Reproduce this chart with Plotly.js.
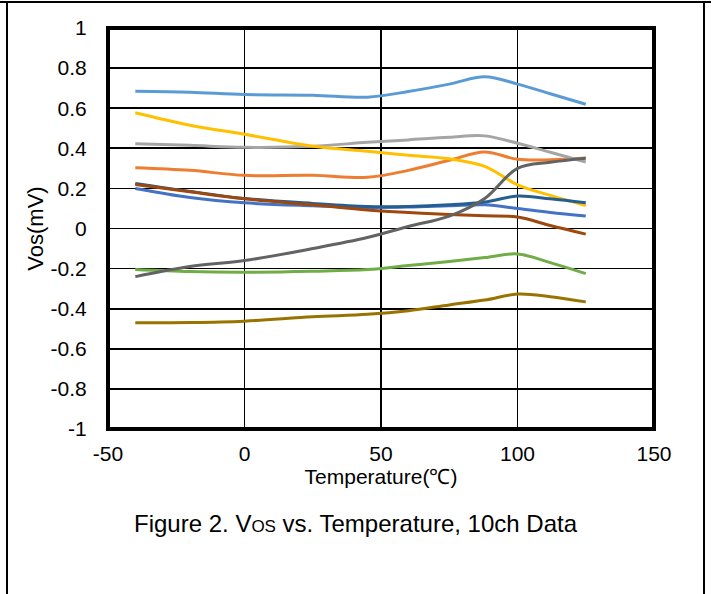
<!DOCTYPE html>
<html>
<head>
<meta charset="utf-8">
<script src="https://cdn.plot.ly/plotly-3.0.1.min.js"></script>
<style>
  html, body { margin: 0; padding: 0; background: #fff; }
  #wrap { position: relative; width: 711px; height: 594px; overflow: hidden; }
  #chart { width: 711px; height: 594px; }
  .frame { position: absolute; background: #000; pointer-events: none; }
</style>
</head>
<body>
<div id="wrap">
  <div id="chart"></div>
  <div class="frame" style="left:0;top:1px;width:711px;height:2px;"></div>
  <div class="frame" style="left:6px;top:1px;width:2px;height:593px;"></div>
  <div class="frame" style="left:703px;top:1px;width:2px;height:593px;"></div>
</div>
<script>
// Temperature points (°C)
const temps = [-40, -20, 0, 25, 45, 60, 75, 88, 100, 112, 125];

// Vos (mV) for each of the 10 channels
const ch1  = [0.685, 0.680, 0.668, 0.665, 0.655, 0.683, 0.720, 0.757, 0.720, 0.672, 0.620];
const ch2  = [0.303, 0.290, 0.265, 0.265, 0.255, 0.290, 0.340, 0.382, 0.345, 0.343, 0.352];
const ch3  = [0.423, 0.415, 0.405, 0.410, 0.430, 0.442, 0.455, 0.462, 0.425, 0.380, 0.332];
const ch4  = [0.577, 0.515, 0.470, 0.410, 0.385, 0.365, 0.348, 0.310, 0.218, 0.165, 0.115];
const ch5  = [0.200, 0.155, 0.128, 0.113, 0.105, 0.107, 0.113, 0.118, 0.100, 0.080, 0.062];
const ch6  = [-0.205, -0.215, -0.218, -0.213, -0.205, -0.185, -0.165, -0.145, -0.127, -0.170, -0.225];
const ch7  = [0.225, 0.185, 0.150, 0.125, 0.110, 0.110, 0.118, 0.132, 0.162, 0.148, 0.128];
const ch8  = [0.220, 0.183, 0.148, 0.118, 0.092, 0.080, 0.070, 0.063, 0.057, 0.015, -0.028];
const ch9  = [-0.240, -0.190, -0.160, -0.100, -0.045, 0.010, 0.062, 0.150, 0.300, 0.330, 0.350];
const ch10 = [-0.470, -0.469, -0.462, -0.440, -0.428, -0.410, -0.381, -0.357, -0.327, -0.340, -0.366];

const channels = [ch1, ch2, ch3, ch4, ch5, ch6, ch7, ch8, ch9, ch10];
const channelNames = ['ch1','ch2','ch3','ch4','ch5','ch6','ch7','ch8','ch9','ch10'];
const colors = ['#5B9BD5','#ED7D31','#A5A5A5','#FFC000','#4472C4','#70AD47','#255E91','#9E480E','#636363','#997300'];

const xTicks = [-50, 0, 50, 100, 150];
const yTicks = [1, 0.8, 0.6, 0.4, 0.2, 0, -0.2, -0.4, -0.6, -0.8, -1];
const yTickText = ['1','0.8','0.6','0.4','0.2','0','-0.2','-0.4','-0.6','-0.8','-1'];

const FONT = 'Liberation Sans, Arial, sans-serif';

const traces = channels.map((vals, i) => ({
  x: temps,
  y: vals,
  name: channelNames[i],
  type: 'scatter',
  mode: 'lines',
  line: { color: colors[i], width: 3, shape: 'spline', smoothing: 1 },
  hoverinfo: 'x+y+name'
}));

const layout = {
  width: 711,
  height: 594,
  margin: { l: 108, r: 57, t: 28, b: 165, pad: 0 },
  paper_bgcolor: '#ffffff',
  plot_bgcolor: '#ffffff',
  showlegend: false,
  font: { family: FONT, color: '#000', size: 21 },
  xaxis: {
    range: [-50, 150],
    tickvals: xTicks,
    ticktext: xTicks.map(String),
    ticks: 'outside',
    ticklen: 6,
    tickcolor: 'rgba(0,0,0,0)',
    showgrid: true,
    gridcolor: '#000',
    gridwidth: 1.7,
    zeroline: false,
    showline: false,
    tickfont: { family: FONT, size: 21, color: '#000' },
    title: { text: 'Temperature(℃)', font: { family: FONT, size: 21, color: '#000' }, standoff: 4 },
    automargin: false,
    fixedrange: true
  },
  yaxis: {
    range: [-1, 1],
    tickvals: yTicks,
    ticktext: yTickText,
    ticks: 'outside',
    ticklen: 16,
    tickcolor: 'rgba(0,0,0,0)',
    showgrid: true,
    gridcolor: '#000',
    gridwidth: 1.7,
    zeroline: false,
    showline: false,
    tickfont: { family: FONT, size: 21, color: '#000' },
    title: { text: 'Vos(mV)', font: { family: FONT, size: 22, color: '#000' }, standoff: 0 },
    automargin: false,
    fixedrange: true
  },
  shapes: [
    { type: 'rect', xref: 'paper', yref: 'paper', x0: 0, x1: 1, y0: 0, y1: 1,
      line: { color: '#000', width: 4 }, fillcolor: 'rgba(0,0,0,0)', layer: 'above' }
  ],
  annotations: [
    {
      xref: 'paper', yref: 'paper', x: 0.455, y: -0.235,
      xanchor: 'center', yanchor: 'middle', showarrow: false,
      text: 'Figure 2. V<span style="font-size:17px">OS</span> vs. Temperature, 10ch Data',
      font: { family: FONT, size: 24, color: '#000' }
    }
  ]
};

Plotly.newPlot('chart', traces, layout, { displayModeBar: false, staticPlot: true });
</script>
</body>
</html>
